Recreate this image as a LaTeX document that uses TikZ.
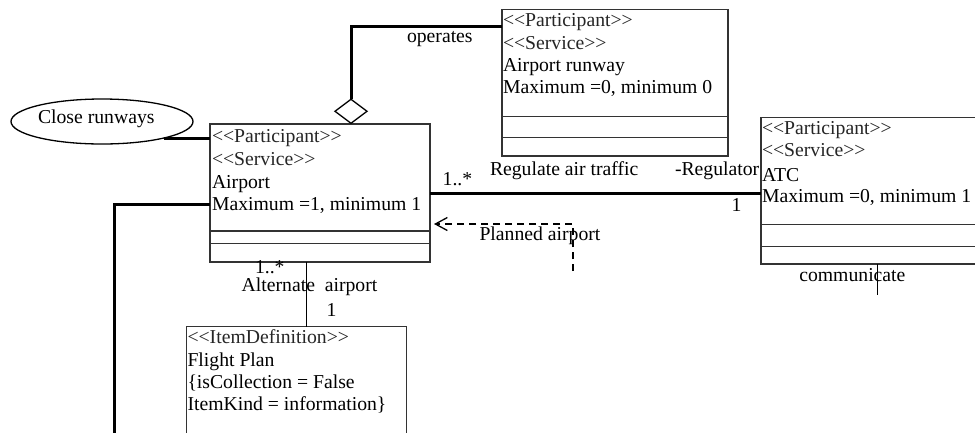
\documentclass[tikz,border=0pt]{standalone}
\usepackage{fontspec}
\setmainfont{Liberation Serif}
\usetikzlibrary{shapes.geometric,arrows.meta}
\begin{document}
\begin{tikzpicture}[x=1pt,y=-1pt,
  every node/.style={font=\fontsize{19.7}{22.6}\selectfont, inner sep=0pt, outer sep=0pt},
  txt/.style={anchor=base west},
  stereo/.style={anchor=base west, text=black!85},
  umlbox/.style={draw=black!80, line width=1.3pt, fill=white, rectangle},
  boxline/.style={draw=black!80, line width=1.3pt},
  thickconn/.style={draw=black, line width=3pt},
  thinconn/.style={draw=black, line width=1.3pt},
  dashconn/.style={draw=black, line width=1.3pt, dash pattern=on 7pt off 5pt}
]
\clip (0,0) rectangle (975,432);
\fill[white] (0,0) rectangle (975,432);

% boxes
\node[umlbox, minimum width=220, minimum height=138] (airport) at (320,193) {};
\node[umlbox, minimum width=226, minimum height=146.7] (runway) at (615,82.65) {};
\node[umlbox, minimum width=239, minimum height=146.7] (atc) at (880.5,190.65) {};
\node[umlbox, minimum width=220, minimum height=133.3] (fp) at (296.7,393.35) {};

% compartments
\draw[boxline] (airport.west |- 0,231) -- (airport.east |- 0,231);
\draw[boxline] (airport.west |- 0,243.7) -- (airport.east |- 0,243.7);
\draw[boxline] (runway.west |- 0,116.7) -- (runway.east |- 0,116.7);
\draw[boxline] (runway.west |- 0,137.7) -- (runway.east |- 0,137.7);
\draw[boxline] (atc.west |- 0,224.3) -- (atc.east |- 0,224.3);
\draw[boxline] (atc.west |- 0,246.7) -- (atc.east |- 0,246.7);

% box texts
\node[stereo] (a1) at (212,142) {<{}<Participant>{}>};
\node[stereo] (a2) at (212,165) {<{}<Service>{}>};
\node[txt] (a3) at (212,188) {Airport};
\node[txt] (a4) at (212,210) {Maximum =1, minimum 1};

\node[stereo] (r1) at (503,26.7) {<{}<Participant>{}>};
\node[stereo] (r2) at (503,49) {<{}<Service>{}>};
\node[txt] (r3) at (503,71.7) {Airport runway};
\node[txt] (r4) at (503,93.3) {Maximum =0, minimum 0};

\node[stereo] (t1) at (762,134) {<{}<Participant>{}>};
\node[stereo] (t2) at (762,156.7) {<{}<Service>{}>};
\node[txt] (t3) at (762,181) {ATC};
\node[txt] (t4) at (762,202.7) {Maximum =0, minimum 1};

\node[stereo] (f1) at (187.5,343.3) {<{}<ItemDefinition>{}>};
\node[txt] (f2) at (187.5,366.7) {Flight Plan};
\node[txt] (f3) at (187.5,388.3) {\{isCollection = False};
\node[txt] (f4) at (187.5,410.7) {ItemKind = information\}};

% ellipse
\node[draw=black, line width=1.3pt, ellipse, minimum width=182, minimum height=45] (close) at (102,121.5) {};
\node[txt] (closetxt) at (38,123.3) {Close runways};
\draw[thickconn] (close.-15) -- (close.-15 -| airport.west);

% diamond and operates
\node[draw=black, line width=1.3pt, fill=white, diamond, minimum width=32, minimum height=24] (dia) at (351,111.3) {};
\draw[thickconn] (dia.north) |- (runway.west |- 0,26.7);
\node[txt] (operates) at (407,42.5) {operates};

% left line
\coordinate (leftEnd) at (114,445);
\draw[thickconn] (airport.west |- 0,204) -| (leftEnd);

% regulate air traffic
\draw[thickconn] (airport.east |- 0,193) -- (atc.west |- 0,193);
\node[txt] (m1) at (442.7,185) {1..*};
\node[txt] (reg) at (490,175) {Regulate air traffic};
\node[txt] (regr) at (675,175) {-Regulator};
\node[txt] (m2) at (731.7,211.7) {1};

% planned airport
\coordinate (pStart) at (573,271);
\draw[dashconn, -{Straight Barb[length=12pt,width=13pt,line width=1.3pt]}, shorten >=4pt] (pStart) |- (airport.east |- 0,224);
\node[txt] (planned) at (479.5,240.7) {Planned airport};

% alternate airport
\draw[thinconn] (airport.south -| 306.7,0) -- (fp.north -| 306.7,0);
\node[txt] (m3) at (255,273) {1..*};
\node[txt] (alt) at (241.7,291.2) {Alternate\hspace{0.5em}airport};
\node[txt] (m4) at (326.7,316.7) {1};

% communicate
\coordinate (cEnd) at (877.3,295);
\draw[thinconn] (atc.south -| cEnd) -- (cEnd);
\node[txt] (comm) at (799.3,281) {communicate};
\end{tikzpicture}
\end{document}
